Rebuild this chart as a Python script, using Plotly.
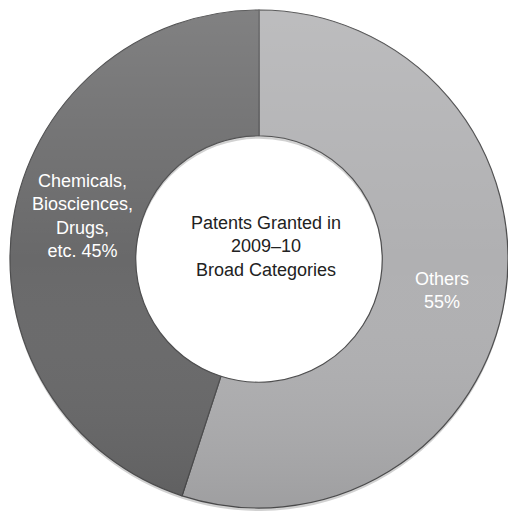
import base64
import plotly.graph_objects as go

# Patents granted in 2009–10, by broad category (percent), drawn clockwise from 12 o'clock
categories = ["Others", "Chemicals,<br>Biosciences,<br>Drugs,<br>etc."]
category_names = ["Others", "Chemicals, Biosciences, Drugs, etc."]
shares = [55, 45]
slice_colors = ["#b0b0b2", "#69696a"]
center_title = "Patents Granted in<br>2009–10<br>Broad Categories"

# "Others" puts its share on a new line, the long category keeps it on the last line
separators = ["<br>", " "]
label_pos = [(0.870, 0.439), (0.163, 0.582)]

W, H = 508, 517
hole = 0.495
# pie box in pixels (left, top, size)
box_l, box_t, box_s = 10, 10, 498
dom_x = [box_l / W, (box_l + box_s) / W]
dom_y = [1 - (box_t + box_s) / H, 1 - box_t / H]

font_family = "Liberation Sans, Arial, Helvetica, sans-serif"

fig = go.Figure()

# faint shadow just below the ring
fig.add_trace(go.Pie(
    values=shares,
    hole=hole,
    sort=False,
    direction="clockwise",
    marker=dict(colors=["rgba(0,0,0,0.18)", "rgba(0,0,0,0.18)"], line=dict(width=0)),
    textinfo="none",
    hoverinfo="skip",
    showlegend=False,
    domain=dict(x=dom_x, y=[dom_y[0] - 3 / H, dom_y[1] - 3 / H]),
))

fig.add_trace(go.Pie(
    labels=category_names,
    values=shares,
    hole=hole,
    sort=False,
    direction="clockwise",
    rotation=0,
    marker=dict(colors=slice_colors, line=dict(width=1.2, color="#4d4d4e")),
    textinfo="none",
    showlegend=False,
    domain=dict(x=dom_x, y=dom_y),
))

# vertical lighting on the ring: lighter at the top, darker at the bottom
R = box_s / 2
mid_r = (R + R * hole) / 2
ring_w = R - R * hole
svg = (
    f"<svg xmlns='http://www.w3.org/2000/svg' width='{box_s}' height='{box_s}' viewBox='0 0 {box_s} {box_s}'>"
    f"<defs><linearGradient id='g' gradientUnits='userSpaceOnUse' x1='0' y1='0' x2='0' y2='{box_s}'>"
    "<stop offset='0' stop-color='white' stop-opacity='0.16'/>"
    "<stop offset='0.5' stop-color='white' stop-opacity='0'/>"
    "<stop offset='1' stop-color='black' stop-opacity='0.10'/>"
    "</linearGradient></defs>"
    f"<circle cx='{R}' cy='{R}' r='{mid_r:.2f}' fill='none' stroke='url(#g)' stroke-width='{ring_w:.2f}'/>"
    "</svg>"
)
fig.add_layout_image(
    source="data:image/svg+xml;base64," + base64.b64encode(svg.encode()).decode(),
    xref="paper", yref="paper",
    x=dom_x[0], y=dom_y[1],
    sizex=dom_x[1] - dom_x[0], sizey=dom_y[1] - dom_y[0],
    xanchor="left", yanchor="top",
    sizing="stretch",
    layer="above",
)

# slice labels
for cat, sep, val, (lx, ly) in zip(categories, separators, shares, label_pos):
    fig.add_annotation(
        text=f"{cat}{sep}{val}%",
        x=lx, y=ly, xref="paper", yref="paper",
        xanchor="center", yanchor="middle",
        showarrow=False,
        font=dict(family=font_family, size=18, color="white"),
        align="center",
    )

fig.add_annotation(
    text=center_title,
    x=0.523, y=0.523, xref="paper", yref="paper",
    xanchor="center", yanchor="middle",
    showarrow=False,
    font=dict(family=font_family, size=18, color="#222222"),
    align="center",
)

fig.update_layout(
    width=W, height=H,
    margin=dict(l=0, r=0, t=0, b=0),
    paper_bgcolor="white",
    plot_bgcolor="white",
)

fig.write_html("out.html")
